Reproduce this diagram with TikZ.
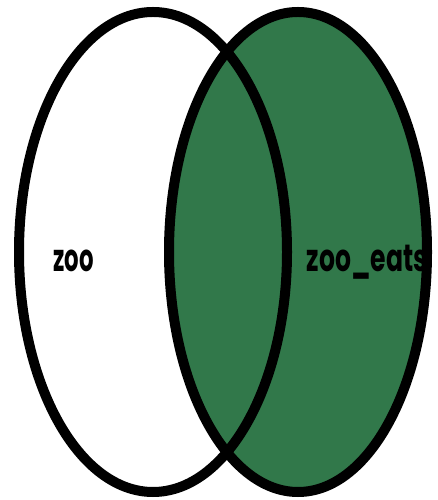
\documentclass[tikz,border=0pt]{standalone}
\usepackage{fontspec}
\setsansfont{Poppins}
\usetikzlibrary{positioning}
\definecolor{zoogreen}{HTML}{31784A}
\definecolor{inkblack}{HTML}{000000}

\begin{document}
\begin{tikzpicture}[
    x=1pt, y=1pt,
    ring/.style={draw=inkblack, line width=10pt},
    setlabel/.style={font=\fontsize{38}{38}\selectfont\sffamily\bfseries, text=inkblack, anchor=base, inner sep=0pt},
]
    \useasboundingbox (0,0) rectangle (438,500);

    % =====================================================================
    % SETS
    % =====================================================================
    \fill[white] (153,248) ellipse [x radius=134, y radius=240];
    \fill[zoogreen] (298,248) ellipse [x radius=129, y radius=240];
    \draw[ring] (153,248) ellipse [x radius=134, y radius=240];
    \draw[ring] (298,248) ellipse [x radius=129, y radius=240];

    % Labels
    \node[setlabel] (zoo) at (73.5,228) {\scalebox{0.6}[1]{zoo}};
    \node[setlabel] (zooeats) at (367,228) {\scalebox{0.66}[1]{zoo\_eats}};

\end{tikzpicture}
\end{document}
